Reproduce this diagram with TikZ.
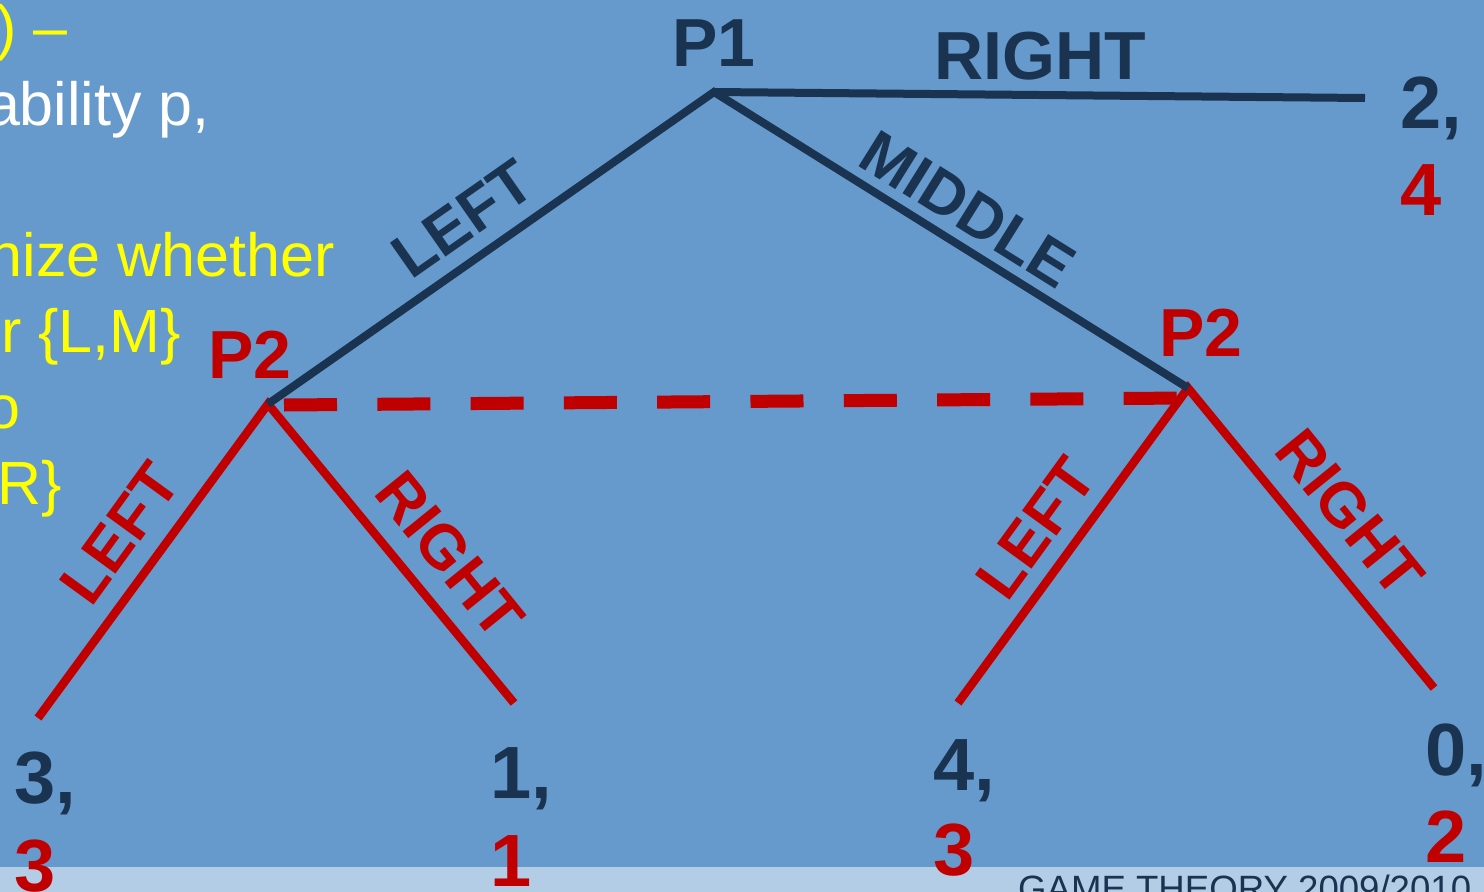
\documentclass[tikz,border=0pt]{standalone}
\usepackage{fontspec}
\setmainfont{Liberation Sans}
\definecolor{bgblue}{HTML}{6699CC}
\definecolor{stripblue}{HTML}{B3CDE6}
\definecolor{navy}{HTML}{1A3350}
\definecolor{redc}{HTML}{C00000}
\definecolor{yel}{HTML}{FFFF00}
\tikzset{
  darkline/.style={draw=navy,line width=8pt,line join=miter},
  redline/.style={draw=redc,line width=8.5pt,line join=miter},
  infoset/.style={draw=redc,line width=13pt,dash pattern=on 53pt off 40.3pt},
  lbl/.style={font=\fontsize{68}{80}\selectfont\bfseries,inner sep=0pt},
  dlbl/.style={lbl,text=navy},
  rlbl/.style={lbl,text=redc},
  rotlbl/.style={font=\fontsize{62}{72}\selectfont\bfseries,inner sep=0pt},
  pay/.style={font=\fontsize{74}{80}\selectfont\bfseries,inner sep=0pt,anchor=base west},
  side/.style={font=\fontsize{61}{72}\selectfont,inner sep=0pt,anchor=base east},
}
\begin{document}
\begin{tikzpicture}[x=1pt,y=-1pt]
\useasboundingbox (0,0) rectangle (1484,892);
\clip (0,0) rectangle (1484,892);
\fill[bgblue] (0,0) rectangle (1484,892);
\fill[stripblue] (0,867) rectangle (1484,892);
\node[font=\fontsize{36.6}{40}\selectfont,text=navy,inner sep=0pt,anchor=base west] (footer) at (1018,901) {GAME THEORY 2009/2010};

% side text (cut off at left)
\node[side,text=yel] (t1) at (68,48) {) –};
\node[side,text=white] (t2) at (210,125) {ability p,};
\node[side,text=yel] (t3) at (335,276) {nize whether};
\node[side,text=yel] (t4) at (181,352) {r \{L,M\}};
\node[side,text=yel] (t5) at (21,428) {o};
\node[side,text=yel] (t6) at (62,504) {R\}};

% tree vertices
\coordinate (p1) at (714,92);
\coordinate (p2l) at (268,404);
\coordinate (p2r) at (1188,388);
\coordinate (eR) at (1365,98);
\coordinate (eLL) at (38,718);
\coordinate (eLR) at (514,703);
\coordinate (eRL) at (958,703);
\coordinate (eRR) at (1434,688);
\coordinate (dA) at (284,405);
\coordinate (dB) at (1185,398);

\draw[infoset] (dA) -- (dB);
\draw[redline] (eLL) -- (p2l) -- (eLR);
\draw[redline] (eRL) -- (p2r) -- (eRR);
\draw[darkline] (p2l) -- (p1) -- (p2r);
\draw[darkline] (p1) -- (eR);

% labels
\node[dlbl] (lp1) at (714,43) {P1};
\node[dlbl] (lright) at (1040,56) {RIGHT};
\node[rlbl] (lp2l) at (250,355) {P2};
\node[rlbl] (lp2r) at (1201,333) {P2};
\node[rotlbl,text=navy,rotate=35] (lleft) at (463,219) {LEFT};
\node[rotlbl,text=navy,rotate=-32] (lmid) at (968,209) {MIDDLE};
\node[rotlbl,text=redc,rotate=54] (a1) at (120,533) {LEFT};
\node[rotlbl,text=redc,rotate=-51] (a2) at (450,555) {RIGHT};
\node[rotlbl,text=redc,rotate=54] (a3) at (1036,528) {LEFT};
\node[rotlbl,text=redc,rotate=-51] (a4) at (1350,513) {RIGHT};

% payoffs
\node[pay,text=navy] (u1a) at (1400,128) {2,};
\node[pay,text=redc] (u1b) at (1400,215) {4};
\node[pay,text=navy] (u2a) at (14,803) {3,};
\node[pay,text=redc] (u2b) at (14,891) {3};
\node[pay,text=navy] (u3a) at (490,798) {1,};
\node[pay,text=redc] (u3b) at (490,886) {1};
\node[pay,text=navy] (u4a) at (933,790) {4,};
\node[pay,text=redc] (u4b) at (933,875) {3};
\node[pay,text=navy] (u5a) at (1425,775) {0,};
\node[pay,text=redc] (u5b) at (1425,862) {2};
\end{tikzpicture}
\end{document}
